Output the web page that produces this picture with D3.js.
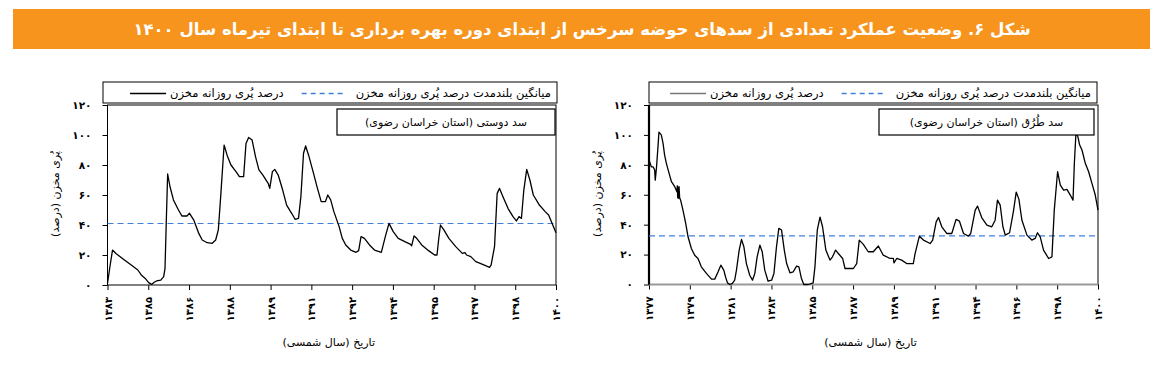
<!DOCTYPE html>
<html>
<head>
<meta charset="utf-8">
<script src="https://cdn.jsdelivr.net/npm/d3@7"></script>
<style>
  body { margin: 0; background: #fff; }
  svg text { font-family: "DejaVu Sans", sans-serif; }
</style>
</head>
<body>
<script>
'use strict';

var titleText = 'شکل ۶. وضعیت عملکرد تعدادی از سدهای حوضه سرخس از ابتدای دوره بهره برداری تا ابتدای تیرماه سال ۱۴۰۰';
var legendDaily = 'درصد پُری روزانه مخزن';
var legendAverage = 'میانگین بلندمدت درصد پُری روزانه مخزن';
var yAxisTitle = 'پُری مخزن (درصد)';
var xAxisTitle = 'تاریخ (سال شمسی)';
var yTickValues = [0, 20, 40, 60, 80, 100, 120];

// سد دوستی
var doustiName = 'سد دوستی (استان خراسان رضوی)';
var doustiTickLabels = ['۱۳۸۳', '۱۳۸۵', '۱۳۸۶', '۱۳۸۸', '۱۳۸۹', '۱۳۹۱', '۱۳۹۲', '۱۳۹۴', '۱۳۹۵', '۱۳۹۷', '۱۳۹۸', '۱۴۰۰'];
var doustiAverage = 41;
var doustiYears = [1383.00, 1383.09, 1383.19, 1383.32, 1383.64, 1383.90, 1384.15, 1384.28, 1384.43, 1384.56, 1384.67, 1384.77,
  1384.86, 1385.02, 1385.13, 1385.18, 1385.23, 1385.28, 1385.37, 1385.50, 1385.69, 1385.82, 1386.01, 1386.11, 1386.27,
  1386.46, 1386.59, 1386.78, 1386.97, 1387.10, 1387.20, 1387.29, 1387.42, 1387.55, 1387.68, 1387.87, 1388.00, 1388.16,
  1388.25, 1388.35, 1388.48, 1388.61, 1388.74, 1388.89, 1389.09, 1389.15, 1389.25, 1389.34, 1389.47, 1389.64, 1389.79,
  1389.98, 1390.11, 1390.24, 1390.33, 1390.43, 1390.51, 1390.62, 1390.81, 1390.94, 1391.10, 1391.26, 1391.35, 1391.46,
  1391.58, 1391.78, 1391.90, 1392.03, 1392.22, 1392.42, 1392.52, 1392.61, 1392.74, 1392.93, 1393.12, 1393.38, 1393.53,
  1393.67, 1393.83, 1394.02, 1394.27, 1394.47, 1394.53, 1394.62, 1394.72, 1394.91, 1395.17, 1395.40, 1395.49, 1395.55,
  1395.62, 1395.75, 1395.94, 1396.20, 1396.45, 1396.55, 1396.61, 1396.77, 1396.96, 1397.22, 1397.48, 1397.54, 1397.67,
  1397.77, 1397.86, 1397.99, 1398.18, 1398.37, 1398.50, 1398.60, 1398.69, 1398.78, 1398.89, 1399.01, 1399.14, 1399.37,
  1399.59, 1399.72, 1399.85, 1400.00];
var doustiValues = [1, 12, 23.3, 21, 16.7, 13.3, 10, 6.7, 4.4, 1.6, 0.4, 1.8,
  2.7, 3.3, 5.6, 11.1, 43.3, 74, 65.5, 56.7, 50, 46, 46, 47.8, 43.3,
  34.4, 30, 28.2, 27.8, 30, 36.7, 58.9, 93.3, 85.6, 80, 75.6, 72.2, 72.2,
  94.4, 98.4, 96.7, 85.6, 76.7, 73.3, 67.8, 64.4, 75.6, 77.1, 73.3, 63.3, 53.3,
  47.8, 43.8, 44.4, 58.9, 87.8, 92.7, 86.7, 74.4, 65.6, 55.6, 55.6, 60, 56.7,
  48.9, 38.9, 31.1, 26.7, 23.3, 21.8, 22.9, 32.2, 31.1, 26.7, 23.3, 21.8, 32.2,
  41.1, 35.6, 31.1, 28.9, 27.3, 26.2, 32.7, 31.1, 26.7, 22.9, 20, 20, 30,
  40, 36.7, 31.1, 25.6, 21.1, 21.6, 20, 18.9, 15.6, 13.8, 11.8, 13.3, 25.6,
  61.1, 64.4, 58.9, 51.1, 45.6, 42.7, 45.6, 44.4, 63.3, 77.1, 70, 60, 53.3,
  48.9, 46.7, 41.1, 34.9];

// سد طرق
var toroghName = 'سد طُرُق (استان خراسان رضوی)';
var toroghTickLabels = ['۱۳۷۷', '۱۳۷۹', '۱۳۸۱', '۱۳۸۳', '۱۳۸۵', '۱۳۸۷', '۱۳۸۹', '۱۳۹۱', '۱۳۹۴', '۱۳۹۶', '۱۳۹۸', '۱۴۰۰'];
var toroghAverage = 32.5;
var toroghYears = [1377.00, 1377.12, 1377.21, 1377.29, 1377.32, 1377.38, 1377.46, 1377.51, 1377.63, 1377.72, 1377.80,
  1377.89, 1378.03, 1378.15, 1378.32, 1378.43, 1378.45, 1378.47, 1378.49, 1378.52, 1378.54, 1378.57, 1378.62, 1378.74,
  1378.88, 1379.00, 1379.17, 1379.34, 1379.51, 1379.68, 1379.94, 1380.20, 1380.37, 1380.54, 1380.68, 1380.83, 1380.93,
  1381.02, 1381.14, 1381.27, 1381.39, 1381.48, 1381.62, 1381.74, 1381.86, 1381.99, 1382.16, 1382.30, 1382.42, 1382.54,
  1382.68, 1382.80, 1382.93, 1383.10, 1383.28, 1383.40, 1383.53, 1383.65, 1383.79, 1383.93, 1384.05, 1384.22, 1384.39,
  1384.56, 1384.68, 1384.81, 1384.93, 1385.16, 1385.41, 1385.50, 1385.62, 1385.76, 1385.89, 1386.06, 1386.27, 1386.40,
  1386.56, 1386.70, 1386.92, 1387.04, 1387.21, 1387.47, 1387.64, 1387.77, 1387.98, 1388.23, 1388.49, 1388.75, 1389.00,
  1389.35, 1389.52, 1389.55, 1389.69, 1389.94, 1390.20, 1390.54, 1390.63, 1390.85, 1391.06, 1391.40, 1391.53, 1391.71,
  1391.83, 1392.00, 1392.25, 1392.51, 1392.73, 1392.90, 1393.11, 1393.36, 1393.48, 1393.71, 1393.83, 1394.05, 1394.31,
  1394.56, 1394.73, 1394.85, 1394.99, 1395.13, 1395.25, 1395.47, 1395.67, 1395.81, 1395.95, 1396.10, 1396.36, 1396.61,
  1396.78, 1396.90, 1397.04, 1397.21, 1397.47, 1397.64, 1397.76, 1397.93, 1398.07, 1398.24, 1398.41, 1398.58, 1398.72,
  1398.79, 1398.87, 1398.97, 1399.06, 1399.18, 1399.35, 1399.52, 1399.69, 1399.86, 1400.00];
var toroghValues = [83.2, 78.7, 78.7, 76.5, 69.8, 77.6, 92, 101.9, 100, 94.4, 86.5,
  81, 74.3, 68.7, 65.4, 62, 66, 58, 65, 57.6, 65.4, 58, 56.4, 49.7,
  40.8, 31.9, 24.1, 19.6, 17.4, 11.8, 7.4, 3.6, 3.6, 8.5, 12.9, 9.6, 4.7,
  1.1, 0, 0.7, 2.9, 9.6, 23, 30.1, 25.2, 14, 6.2, 2.9, 7.4, 18.5,
  26.3, 21.9, 9.6, 2.2, 2.9, 7.4, 25.2, 37.5, 36.4, 23, 14, 7.8, 8.5,
  12.3, 11.8, 4, 0, 0, 1.1, 11.8, 36.4, 45.1, 38.6, 23, 16.3, 18.5,
  23, 20.7, 17.4, 10.7, 10.7, 10.7, 14, 29.7, 26.8, 21.9, 21.9, 25.7, 19.6,
  17.4, 17.4, 14.5, 17.4, 16.3, 14, 14, 20.7, 32.3, 29.7, 27.4, 29.7, 41.9,
  44.8, 38.6, 34.1, 34.1, 43.5, 42.4, 34.1, 32.3, 34.1, 49.7, 52.4, 44.6, 39.7,
  38.6, 43, 56.4, 53.1, 38.6, 33, 34.6, 49.1, 61.8, 56.9, 43.1, 33, 29.7,
  30.8, 34.6, 31.9, 23, 17.4, 18.5, 49.7, 75.4, 66.5, 63.1, 63.6, 59.8, 56.4,
  81.4, 101, 98.8, 93.2, 89.9, 81, 75.4, 67.6, 59.8, 49.7];

function faDigits(n) {
  return String(n).replace(/\d/g, function(d) { return '۰۱۲۳۴۵۶۷۸۹'[d]; });
}

var svg = d3.select('body').append('svg')
  .attr('width', 1163)
  .attr('height', 386);

// title banner
svg.append('rect')
  .attr('x', 13).attr('y', 9)
  .attr('width', 1137).attr('height', 40)
  .attr('fill', '#f7941d');

svg.append('text')
  .attr('x', 582).attr('y', 35)
  .attr('direction', 'rtl')
  .attr('text-anchor', 'middle')
  .attr('fill', '#fff')
  .style('font-size', '16.5px')
  .style('font-weight', 'bold')
  .text(titleText);

drawChart({
  left: 107.5, right: 556, top: 105, bottom: 285,
  legendLeft: 103, legendRight: 557,
  nameLeft: 337, nameRight: 555,
  start: 1383, end: 1400,
  years: doustiYears, values: doustiValues,
  average: doustiAverage,
  tickLabels: doustiTickLabels,
  name: doustiName,
  legendLineColor: '#000',
  heavyAxis: false
});

drawChart({
  left: 649, right: 1098, top: 105, bottom: 284.5,
  legendLeft: 649, legendRight: 1097,
  nameLeft: 879, nameRight: 1094,
  start: 1377, end: 1400,
  years: toroghYears, values: toroghValues,
  average: toroghAverage,
  tickLabels: toroghTickLabels,
  name: toroghName,
  legendLineColor: '#777',
  heavyAxis: true
});

function drawChart(cfg) {
  var x = d3.scaleLinear().domain([cfg.start, cfg.end]).range([cfg.left, cfg.right]);
  var y = d3.scaleLinear().domain([0, 120]).range([cfg.bottom, cfg.top]);
  var g = svg.append('g');

  // ticks are evenly spaced along the time span, labelled by the chart's own list
  var step = (cfg.end - cfg.start) / (cfg.tickLabels.length - 1);
  var tickValues = cfg.tickLabels.map(function(d, i) { return cfg.start + i * step; });

  var gx = g.append('g')
    .attr('transform', 'translate(0,' + cfg.bottom + ')')
    .call(d3.axisBottom(x)
      .tickValues(tickValues)
      .tickSize(5)
      .tickFormat(function(d, i) { return cfg.tickLabels[i]; }));
  gx.select('.domain').remove();
  gx.selectAll('text')
    .attr('transform', 'rotate(-90)')
    .attr('x', -12)
    .attr('y', 0)
    .attr('dy', '0.35em')
    .attr('text-anchor', 'end')
    .style('font-size', '10px')
    .style('font-weight', 'bold')
    .style('font-family', '"DejaVu Sans", sans-serif');

  var gy = g.append('g')
    .attr('transform', 'translate(' + cfg.left + ',0)')
    .call(d3.axisLeft(y)
      .tickValues(yTickValues)
      .tickSize(5)
      .tickPadding(11)
      .tickFormat(faDigits));
  gy.select('.domain').remove();
  gy.selectAll('text')
    .style('font-size', '10.5px')
    .style('font-weight', 'bold')
    .style('font-family', '"DejaVu Sans", sans-serif');

  // frame
  g.append('rect')
    .attr('x', cfg.left).attr('y', cfg.top)
    .attr('width', cfg.right - cfg.left)
    .attr('height', cfg.bottom - cfg.top)
    .attr('fill', 'none')
    .attr('stroke', '#000')
    .attr('stroke-width', 1);

  if (cfg.heavyAxis) {
    g.append('line')
      .attr('x1', cfg.left).attr('x2', cfg.right)
      .attr('y1', y(0)).attr('y2', y(0))
      .attr('stroke', '#999')
      .attr('stroke-width', 2);
    g.append('line')
      .attr('x1', cfg.left).attr('x2', cfg.left)
      .attr('y1', cfg.top).attr('y2', cfg.bottom)
      .attr('stroke', '#000')
      .attr('stroke-width', 2.2);
  }

  // long-term average
  g.append('line')
    .attr('x1', cfg.left).attr('x2', cfg.right)
    .attr('y1', y(cfg.average)).attr('y2', y(cfg.average))
    .attr('stroke', '#3f7fdb')
    .attr('stroke-width', 1.1)
    .attr('stroke-dasharray', '6,4');

  var line = d3.line()
    .x(function(d, i) { return x(cfg.years[i]); })
    .y(function(d) { return y(d); });

  g.append('path')
    .datum(cfg.values)
    .attr('d', line)
    .attr('fill', 'none')
    .attr('stroke', '#000')
    .attr('stroke-width', 1.3)
    .attr('stroke-linejoin', 'round');

  // dam name box
  g.append('rect')
    .attr('x', cfg.nameLeft).attr('y', 109)
    .attr('width', cfg.nameRight - cfg.nameLeft).attr('height', 26)
    .attr('fill', '#fff')
    .attr('stroke', '#000')
    .attr('stroke-width', 1.2);
  g.append('text')
    .attr('x', (cfg.nameLeft + cfg.nameRight) / 2)
    .attr('y', 126)
    .attr('direction', 'rtl')
    .attr('text-anchor', 'middle')
    .style('font-size', '11px')
    .text(cfg.name);

  // legend
  g.append('rect')
    .attr('x', cfg.legendLeft).attr('y', 82)
    .attr('width', cfg.legendRight - cfg.legendLeft).attr('height', 21)
    .attr('fill', '#fff')
    .attr('stroke', '#000')
    .attr('stroke-width', 1);

  var avgText = g.append('text')
    .attr('x', cfg.legendRight - 6)
    .attr('y', 97)
    .attr('direction', 'rtl')
    .attr('text-anchor', 'start')
    .style('font-size', '11.5px')
    .text(legendAverage);
  var avgLeft = cfg.legendRight - 6 - avgText.node().getComputedTextLength();

  g.append('line')
    .attr('x1', avgLeft - 54).attr('x2', avgLeft - 12)
    .attr('y1', 93.5).attr('y2', 93.5)
    .attr('stroke', '#3f7fdb')
    .attr('stroke-width', 1.5)
    .attr('stroke-dasharray', '5,4');

  var dailyRight = avgLeft - 72;
  var dailyText = g.append('text')
    .attr('x', dailyRight)
    .attr('y', 97)
    .attr('direction', 'rtl')
    .attr('text-anchor', 'start')
    .style('font-size', '11.5px')
    .text(legendDaily);
  var dailyLeft = dailyRight - dailyText.node().getComputedTextLength();

  g.append('line')
    .attr('x1', dailyLeft - 40).attr('x2', dailyLeft - 4)
    .attr('y1', 93.5).attr('y2', 93.5)
    .attr('stroke', cfg.legendLineColor)
    .attr('stroke-width', 1.5);

  // axis titles
  g.append('text')
    .attr('transform', 'translate(' + (cfg.left - 52) + ',194) rotate(-90)')
    .attr('direction', 'rtl')
    .attr('text-anchor', 'middle')
    .attr('dy', '0.35em')
    .style('font-size', '11px')
    .text(yAxisTitle);

  g.append('text')
    .attr('x', (cfg.left + cfg.right) / 2 - 3)
    .attr('y', 346)
    .attr('direction', 'rtl')
    .attr('text-anchor', 'middle')
    .style('font-size', '11px')
    .text(xAxisTitle);
}
</script>
</body>
</html>
